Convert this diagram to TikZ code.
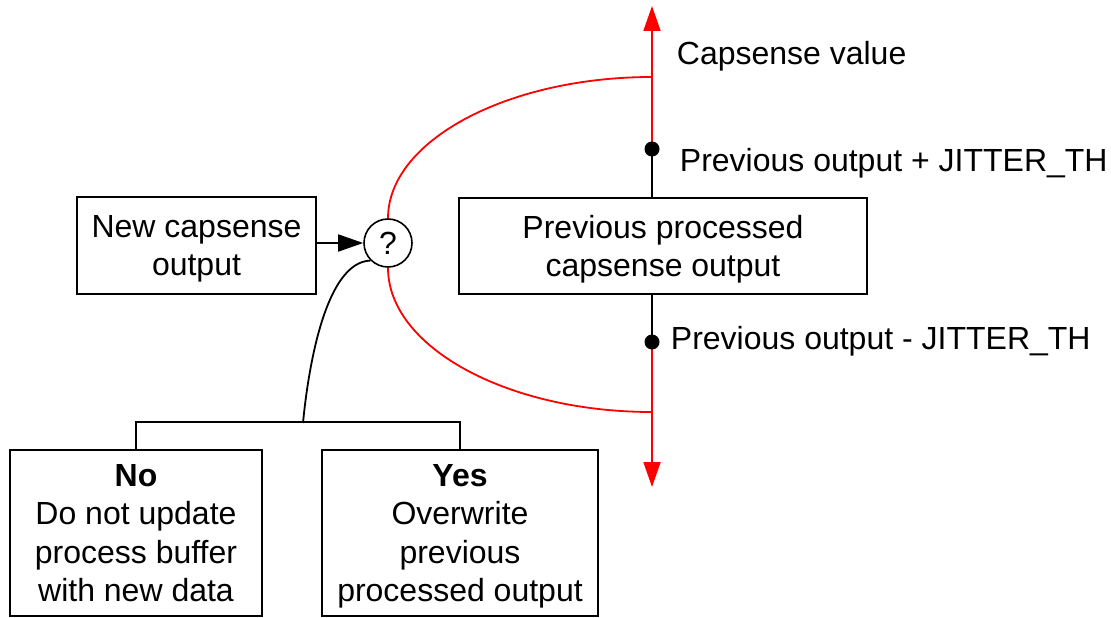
\documentclass[tikz,border=0pt]{standalone}
\usepackage{fontspec}
\setmainfont{Liberation Sans}
\usetikzlibrary{arrows.meta}

\begin{document}
\begin{tikzpicture}[x=1pt, y=-1pt, line width=1.8pt,
  font=\fontsize{32}{38.5}\selectfont,
  box/.style={draw, align=center, inner sep=0, text depth=0pt, line width=1.6pt},
  joint/.style={circle, fill=black, inner sep=0, minimum size=15pt},
  lbl/.style={anchor=west, inner sep=0},
  tip/.style={-{Triangle[length=25pt, width=17pt]}}]

\useasboundingbox (0,0) rectangle (1111,618);

\node[box, minimum width=239pt, minimum height=97pt] (new) at (196.5,245.5) {New capsense\\output};
\node[draw, circle, minimum size=48pt, inner sep=0, line width=1.6pt] (q) at (388,243) {?};
\node[box, minimum width=408pt, minimum height=96pt] (prev) at (663,246) {Previous processed\\capsense output};

\node[box, minimum width=252pt, minimum height=166pt] (no) at (136,533) {{\bfseries No}\\Do not update\\process buffer\\with new data};
\node[box, minimum width=276pt, minimum height=166pt] (yes) at (460,533) {{\bfseries Yes}\\Overwrite\\previous\\processed output};

\coordinate (up) at (652,149);
\coordinate (lo) at (652,342);
\coordinate (top) at (652,6);
\coordinate (bot) at (652,487);
\coordinate (cu) at (652,77);
\coordinate (cl) at (652,412);
\coordinate (j) at (303,423);

\node[lbl] (a) at (676,56) {Capsense value};
\node[lbl] (b) at (679,163) {Previous output + JITTER\_TH};
\node[lbl] (c) at (670,341) {Previous output - JITTER\_TH};

\draw[tip] (new.east |- q.west) to (q.west);
\draw (up) to (up |- prev.north);
\draw (lo) to (lo |- prev.south);
\draw[red, tip] (up) to (top);
\draw[red, tip] (lo) to (bot);

\draw[red] (q.north) .. controls (388,141) and (507,77) .. (cu);
\draw[red] (q.south) .. controls (388,347) and (507,412) .. (cl);
\draw (q.225) .. controls (325,262) and (308,370) .. (j);

\draw[line width=1.6pt] (no.north) -- ++(0,-27) -| (yes.north);

\node[joint] (d1) at (up) {};
\node[joint] (d2) at (lo) {};

\end{tikzpicture}
\end{document}
